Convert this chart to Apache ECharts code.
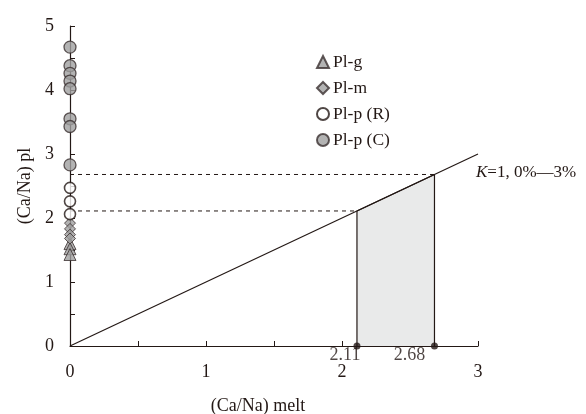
<!DOCTYPE html>
<html>
<head>
<meta charset="utf-8">
<script src="https://cdn.jsdelivr.net/npm/echarts@6/dist/echarts.min.js"></script>
<style>
  html, body { margin: 0; padding: 0; background: #fff; }
  #chart { width: 586px; height: 414px; }
</style>
</head>
<body>
<div id="chart"></div>
<script>
// 各组斜长石 (Ca/Na) 值, 全部在 x = 0 处
const plG = [1.60, 1.52, 1.43];
const plM = [1.92, 1.83, 1.74, 1.68];
const plPR = [2.47, 2.26, 2.06];
const plPC = [4.67, 4.38, 4.26, 4.14, 4.02, 3.55, 3.43, 2.83];

// K=1 分配线和熔体范围
const kLine = [[0, 0], [3, 3]];
const meltRange = [2.11, 2.68];

const xTicks = [0, 1, 2, 3];
const yTicks = [0, 1, 2, 3, 4, 5];

const ink = '#231815';
const gray = '#a0a0a0';
const font = 'Liberation Serif';
const fs = 18;

const toPoints = (arr) => arr.map(v => [0, v]);

const chart = echarts.init(document.getElementById('chart'));

const option = {
  animation: false,
  textStyle: { fontFamily: font, color: ink },
  grid: { left: 70, right: 108, top: 26, bottom: 68, outerBoundsMode: 'none' },
  legend: {
    orient: 'vertical',
    left: 311,
    top: 48,
    itemWidth: 12,
    itemHeight: 12,
    itemGap: 8,
    textStyle: { fontFamily: font, fontSize: 17.5, color: ink, padding: [0, 0, 0, -1] },
    data: ['Pl-g', 'Pl-m', 'Pl-p (R)', 'Pl-p (C)']
  },
  xAxis: {
    type: 'value',
    min: 0,
    max: 3,
    interval: 0.5,
    name: '(Ca/Na) melt',
    nameLocation: 'middle',
    nameGap: 51,
    nameTextStyle: { fontFamily: font, fontSize: fs, color: ink, padding: [0, 32, 0, 0] },
    axisLine: { lineStyle: { color: ink, width: 1.2 } },
    axisTick: { inside: true, length: 5, lineStyle: { color: ink } },
    axisLabel: {
      margin: 17,
      fontFamily: font,
      fontSize: fs,
      color: ink,
      showMaxLabel: true,
      formatter: v => (xTicks.includes(v) ? String(v) : '')
    },
    splitLine: { show: false }
  },
  yAxis: {
    type: 'value',
    min: 0,
    max: 5,
    interval: 0.5,
    name: '(Ca/Na) pl',
    nameLocation: 'middle',
    nameGap: 35,
    nameTextStyle: { fontFamily: font, fontSize: fs, color: ink },
    axisLine: { lineStyle: { color: ink, width: 1.2 } },
    axisTick: { inside: true, length: 5, lineStyle: { color: ink } },
    axisLabel: {
      margin: 16,
      fontFamily: font,
      fontSize: fs,
      color: ink,
      formatter: v => (yTicks.includes(v) ? String(v) : '')
    },
    splitLine: { show: false }
  },
  series: [
    {
      // 阴影区: 熔体 Ca/Na 范围
      name: 'range',
      type: 'line',
      data: [[meltRange[0], 0], [meltRange[0], meltRange[0]], [meltRange[1], meltRange[1]], [meltRange[1], 0]],
      symbol: 'none',
      lineStyle: { color: ink, width: 1.2 },
      areaStyle: { color: '#e9eaea', opacity: 1 },
      z: 1
    },
    {
      name: 'dash',
      type: 'line',
      data: [[0, meltRange[0]], [meltRange[0], meltRange[0]]],
      symbol: 'none',
      lineStyle: { color: ink, width: 1, type: [4, 4] },
      z: 1
    },
    {
      name: 'dash2',
      type: 'line',
      data: [[0, meltRange[1]], [meltRange[1], meltRange[1]]],
      symbol: 'none',
      lineStyle: { color: ink, width: 1, type: [4, 4] },
      z: 1
    },
    {
      name: 'K',
      type: 'line',
      data: kLine,
      symbol: 'none',
      lineStyle: { color: ink, width: 1.2 },
      endLabel: {
        show: true,
        offset: [-2, 19],
        distance: 0,
        formatter: '{i|K}=1, 0%\u20143%',
        fontFamily: font,
        fontSize: 17,
        color: ink,
        rich: {
          i: { fontFamily: font, fontSize: 17, fontStyle: 'italic', color: ink }
        }
      },
      z: 2
    },
    {
      name: 'marks',
      type: 'scatter',
      data: meltRange.map(v => [v, 0]),
      symbol: 'circle',
      symbolSize: 7,
      itemStyle: { color: ink },
      label: {
        show: true,
        position: 'bottom',
        distance: 0,
        fontFamily: font,
        fontSize: fs,
        color: ink,
        formatter: p => p.value[0].toFixed(2)
      },
      labelLayout: p => ({ dx: p.dataIndex === 0 ? -12 : -25, dy: -3 }),
      z: 5
    },
    {
      name: 'Pl-g',
      type: 'scatter',
      data: toPoints(plG),
      symbol: 'triangle',
      symbolSize: 12,
      itemStyle: { color: gray, borderColor: '#3a3030', borderWidth: 1 },
      clip: false,
      z: 6
    },
    {
      name: 'Pl-m',
      type: 'scatter',
      data: toPoints(plM),
      symbol: 'diamond',
      symbolSize: 11,
      itemStyle: { color: gray, borderColor: '#3a3030', borderWidth: 1 },
      clip: false,
      z: 6
    },
    {
      name: 'Pl-p (R)',
      type: 'scatter',
      data: toPoints(plPR),
      symbol: 'circle',
      symbolSize: 11,
      itemStyle: { color: '#ffffff', borderColor: ink, borderWidth: 1.6 },
      clip: false,
      z: 6
    },
    {
      name: 'Pl-p (C)',
      type: 'scatter',
      data: toPoints(plPC),
      symbol: 'circle',
      symbolSize: 12,
      itemStyle: { color: gray, borderColor: '#3a3030', borderWidth: 1.3 },
      clip: false,
      z: 6
    }
  ]
};

chart.setOption(option);
</script>
</body>
</html>
